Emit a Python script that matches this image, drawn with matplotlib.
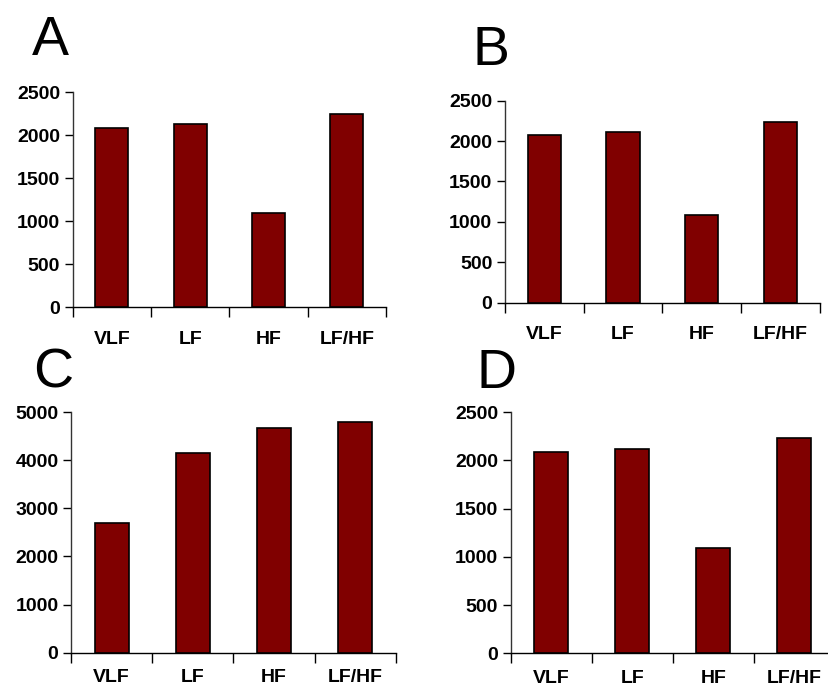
import numpy as np
import matplotlib
matplotlib.use('Agg')
import matplotlib.pyplot as plt

plt.rcParams['font.family'] = ['Liberation Sans', 'DejaVu Sans']

# values
categories = ['VLF', 'LF', 'HF', 'LF/HF']
values_a = [2085, 2124, 1093, 2244]
values_b = [2075, 2116, 1085, 2236]
values_c = [2694, 4155, 4661, 4798]
values_d = [2082, 2120, 1094, 2231]

yticks_small = [0, 500, 1000, 1500, 2000, 2500]
yticks_big = [0, 1000, 2000, 3000, 4000, 5000]

panel_letters = ['A', 'B', 'C', 'D']

bar_color = '#800000'

fig = plt.figure(figsize=(8.29, 6.91), dpi=100)

# axes rectangles in figure coordinates (left, bottom, width, height)
rects = [
    (0.0877, 0.5557, 0.378, 0.311),
    (0.609, 0.562, 0.380, 0.2923),
    (0.0856, 0.0554, 0.392, 0.3483),
    (0.616, 0.0546, 0.391, 0.349),
]
letter_pos = [(32, 55), (473, 65), (33, 388), (477, 388)]
label_pads = [17, 17, 12, 12]

all_values = [values_a, values_b, values_c, values_d]
all_ticks = [yticks_small, yticks_small, yticks_big, yticks_small]

for rect, vals, ticks, letter, (lx, ly), lpad in zip(rects, all_values, all_ticks, panel_letters, letter_pos, label_pads):
    ax = fig.add_axes(rect)
    x = np.arange(len(categories))
    ax.bar(x, vals, width=0.42, color=bar_color, edgecolor='black', linewidth=1.2, zorder=3)

    ax.set_xlim(-0.5, len(categories) - 0.5)
    ax.set_ylim(ticks[0], ticks[-1])
    ax.set_yticks(ticks)
    ax.set_yticklabels([str(t) for t in ticks], fontsize=14, fontweight='bold')

    # category labels in the middle, tick marks at the boundaries
    ax.set_xticks(x)
    ax.set_xticklabels(categories, fontsize=14, fontweight='bold')
    ax.set_xticks(np.arange(-0.5, len(categories)), minor=True)
    ax.tick_params(axis='x', which='major', length=0, pad=lpad)
    ax.tick_params(axis='x', which='minor', length=7, width=1.0, direction='out')
    ax.tick_params(axis='y', length=6, width=1.0, direction='out', pad=3)

    for side in ['top', 'right']:
        ax.spines[side].set_visible(False)
    for side in ['left', 'bottom']:
        ax.spines[side].set_linewidth(1.0)
    ax.spines['left'].set_color('#333333')

    fig.text(lx / 829, 1 - ly / 691, letter, fontsize=40, va='baseline', ha='left')

fig.savefig('out.png', dpi=100)
